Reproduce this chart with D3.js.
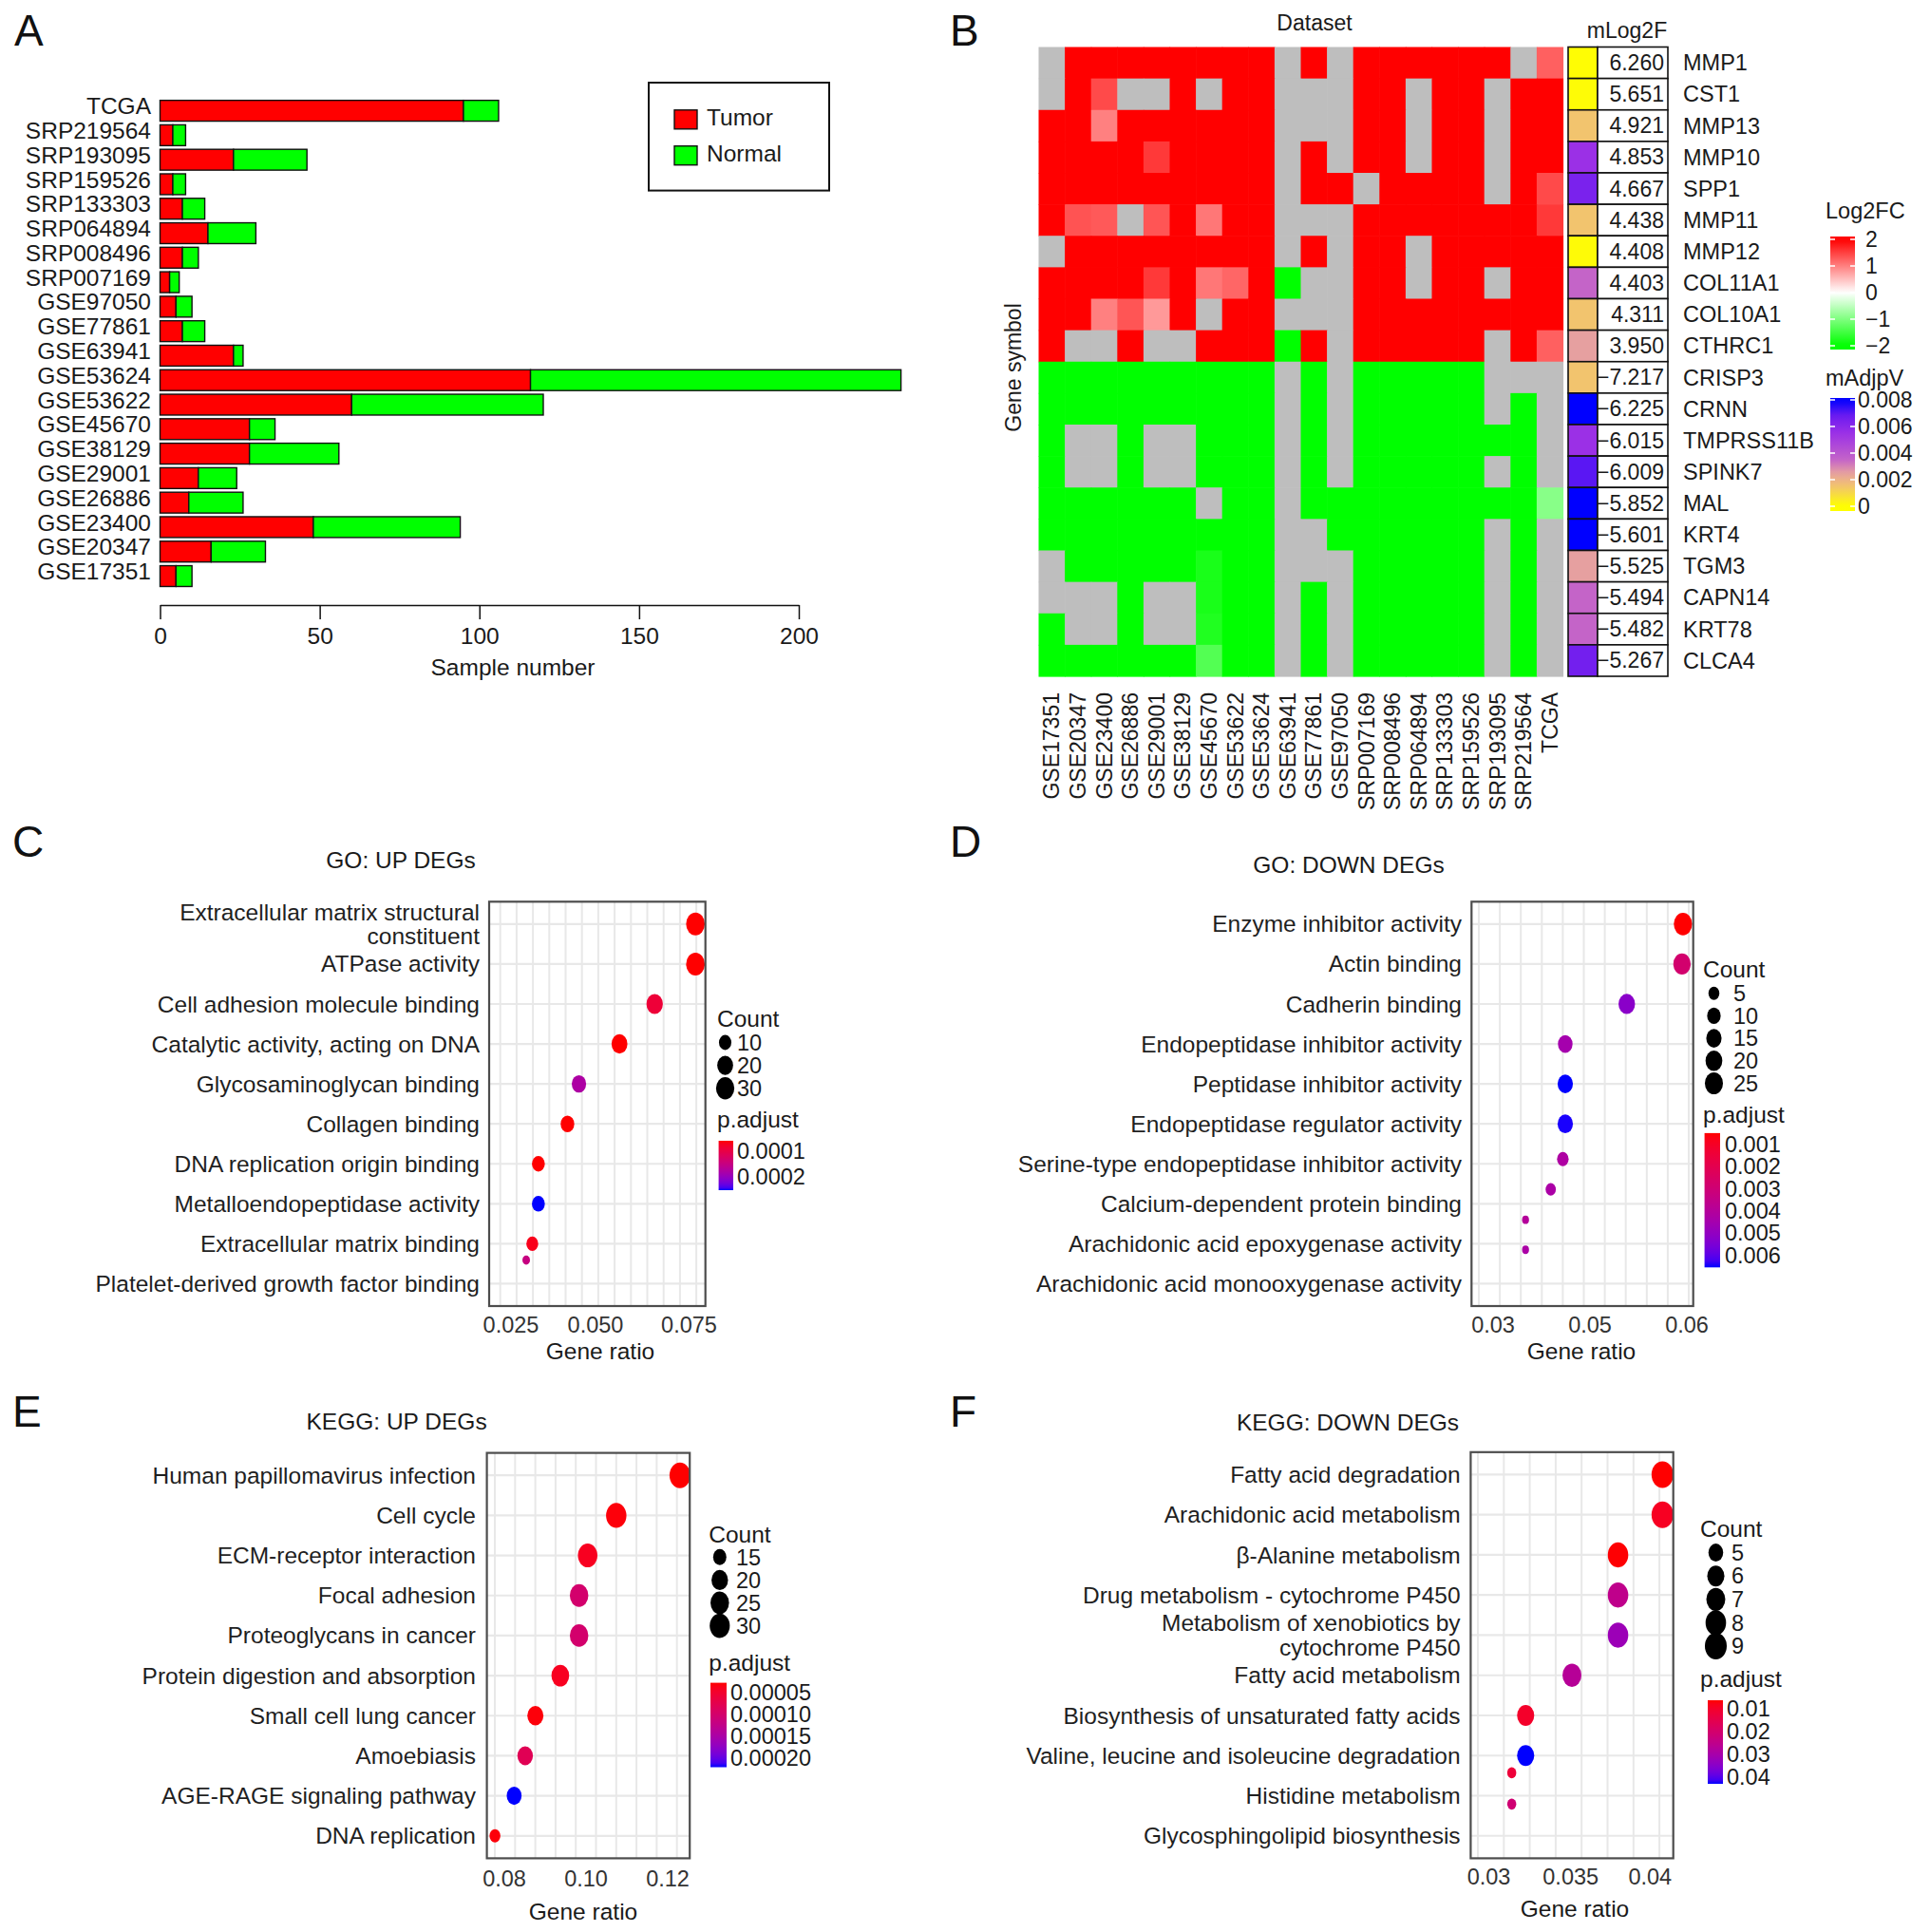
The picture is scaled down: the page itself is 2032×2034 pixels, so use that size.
<!DOCTYPE html>
<html>
<head>
<meta charset="utf-8">
<script src="https://cdn.jsdelivr.net/npm/d3@7"></script>
<style>
  body { margin: 0; background: #fff; }
</style>
</head>
<body>
<div id="figure"></div>
<script>
// ---------- A: sample numbers per dataset ----------
const sampleSets = ["TCGA", "SRP219564", "SRP193095", "SRP159526", "SRP133303", "SRP064894",
  "SRP008496", "SRP007169", "GSE97050", "GSE77861", "GSE63941", "GSE53624", "GSE53622",
  "GSE45670", "GSE38129", "GSE29001", "GSE26886", "GSE23400", "GSE20347", "GSE17351"];
const tumorCount = [95, 4, 23, 4, 7, 15, 7, 3, 5, 7, 23, 116, 60, 28, 28, 12, 9, 48, 16, 5];
const normalCount = [11, 4, 23, 4, 7, 15, 5, 3, 5, 7, 3, 116, 60, 8, 28, 12, 17, 46, 17, 5];
const sampleTicks = [0, 50, 100, 150, 200];

// ---------- B: robust rank heatmap ----------
const heatDatasets = ["GSE17351", "GSE20347", "GSE23400", "GSE26886", "GSE29001", "GSE38129",
  "GSE45670", "GSE53622", "GSE53624", "GSE63941", "GSE77861", "GSE97050", "SRP007169",
  "SRP008496", "SRP064894", "SRP133303", "SRP159526", "SRP193095", "SRP219564", "TCGA"];
const heatGenes = ["MMP1", "CST1", "MMP13", "MMP10", "SPP1", "MMP11", "MMP12", "COL11A1", "COL10A1",
  "CTHRC1", "CRISP3", "CRNN", "TMPRSS11B", "SPINK7", "MAL", "KRT4", "TGM3", "CAPN14", "KRT78", "CLCA4"];
const meanLog2FC = [6.260, 5.651, 4.921, 4.853, 4.667, 4.438, 4.408, 4.403, 4.311, 3.950,
  -7.217, -6.225, -6.015, -6.009, -5.852, -5.601, -5.525, -5.494, -5.482, -5.267];
const meanAdjP = [0.00005, 0.00008, 0.0015, 0.0055, 0.0064, 0.0015, 0.0001, 0.0035, 0.0015, 0.0025,
  0.0015, 0.0080, 0.0055, 0.0070, 0.0080, 0.0080, 0.0025, 0.0035, 0.0035, 0.0066];
const N = null; // not reported in that dataset
const heatLog2FC = [
  [N, 2, 2, 2, 2, 2, 2, 2, 2, N, 2, N, 2, 2, 2, 2, 2, 2, N, 1.25],
  [N, 2, 1.42, N, N, 2, N, 2, 2, N, N, N, 2, 2, N, 2, 2, N, 2, 2],
  [2, 2, 1.0, 2, 2, 2, 2, 2, 2, N, N, N, 2, 2, N, 2, 2, N, 2, 2],
  [2, 2, 2, 2, 1.55, 2, 2, 2, 2, N, 2, N, 2, 2, N, 2, 2, N, 2, 2],
  [2, 2, 2, 2, 2, 2, 2, 2, 2, N, 2, 2, N, 2, 2, 2, 2, N, 2, 1.42],
  [2, 1.35, 1.3, N, 1.33, 2, 1.07, 2, 2, N, N, N, 2, 2, 2, 2, 2, 2, 2, 1.55],
  [N, 2, 2, 2, 2, 2, 2, 2, 2, N, 2, N, 2, 2, N, 2, 2, 2, 2, 2],
  [2, 2, 2, 2, 1.55, 2, 1.07, 1.2, 2, -2, N, N, 2, 2, N, 2, 2, N, 2, 2],
  [2, 2, 1.0, 1.33, 0.8, 2, N, 2, 2, N, N, N, 2, 2, 2, 2, 2, 2, 2, 2],
  [2, N, N, 2, N, N, 2, 2, 2, -2, 2, N, 2, 2, 2, 2, 2, N, 2, 1.25],
  [-2, -2, -2, -2, -2, -2, -2, -2, -2, N, -2, N, -2, -2, -2, -2, -2, N, N, N],
  [-2, -2, -2, -2, -2, -2, -2, -2, -2, N, -2, N, -2, -2, -2, -2, -2, N, -2, N],
  [-2, N, N, -2, N, N, -2, -2, -2, N, -2, N, -2, -2, -2, -2, -2, -2, -2, N],
  [-2, N, N, -2, N, N, -2, -2, -2, N, -2, N, -2, -2, -2, -2, -2, N, -2, N],
  [-2, -2, -2, -2, -2, -2, N, -2, -2, N, -2, -2, -2, -2, -2, -2, -2, -2, -2, -0.93],
  [-2, -2, -2, -2, -2, -2, -2, -2, -2, N, N, -2, -2, -2, -2, -2, -2, N, -2, N],
  [N, -2, -2, -2, -2, -2, -1.8, -2, -2, N, N, N, -2, -2, -2, -2, -2, N, -2, N],
  [N, N, N, -2, N, N, -1.8, -2, -2, N, -2, N, -2, -2, -2, -2, -2, N, -2, N],
  [-2, N, N, -2, N, N, -1.75, -2, -2, N, -2, N, -2, -2, -2, -2, -2, N, -2, N],
  [-2, -2, -2, -2, -2, -2, -1.35, -2, -2, N, -2, N, -2, -2, -2, -2, -2, N, -2, N]
];
const fcTicks = [2, 1, 0, -1, -2];
const adjTicks = [0.008, 0.006, 0.004, 0.002, 0];

// ---------- C: GO up ----------
const goUpTerms = ["Extracellular matrix structural\nconstituent", "ATPase activity",
  "Cell adhesion molecule binding", "Catalytic activity, acting on DNA", "Glycosaminoglycan binding",
  "Collagen binding", "DNA replication origin binding", "Metalloendopeptidase activity",
  "Extracellular matrix binding", "Platelet-derived growth factor binding"];
const goUpRatio = [0.0767, 0.0767, 0.0658, 0.0564, 0.0451, 0.0417, 0.0331, 0.0331, 0.0313, 0.0295];
const goUpCount = [32, 32, 22, 20, 15, 13, 11, 11, 9, 5];
const goUpPadj = [0.00006, 0.00006, 0.00009, 0.00006, 0.00018, 0.00006, 0.00006, 0.000254, 0.00007, 0.00015];
const goUpRow = [0, 1, 2, 3, 4, 5, 6, 7, 8, 8.41];
const goUpTicks = [0.025, 0.05, 0.075];
const goUpTickLabels = ["0.025", "0.050", "0.075"];
const goUpCountBreaks = [10, 20, 30];
const goUpPadjBreaks = [0.0001, 0.0002];

// ---------- D: GO down ----------
const goDownTerms = ["Enzyme inhibitor activity", "Actin binding", "Cadherin binding",
  "Endopeptidase inhibitor activity", "Peptidase inhibitor activity", "Endopeptidase regulator activity",
  "Serine-type endopeptidase inhibitor activity", "Calcium-dependent protein binding",
  "Arachidonic acid epoxygenase activity", "Arachidonic acid monooxygenase activity"];
const goDownRatio = [0.0596, 0.0595, 0.0538, 0.0449, 0.0449, 0.0449, 0.0444, 0.0419, 0.0367, 0.0367];
const goDownCount = [26, 22, 19, 13, 15, 15, 6, 4, 2, 2];
const goDownPadj = [0.0005, 0.0028, 0.0052, 0.0045, 0.00655, 0.0065, 0.0042, 0.0043, 0.0040, 0.0043];
const goDownRow = [0, 1, 2, 3, 4, 5, 5.88, 6.64, 7.4, 8.15];
const goDownTicks = [0.03, 0.05, 0.06];
const goDownTickLabels = ["0.03", "0.05", "0.06"];
const goDownCountBreaks = [5, 10, 15, 20, 25];
const goDownPadjBreaks = [0.001, 0.002, 0.003, 0.004, 0.005, 0.006];

// ---------- E: KEGG up ----------
const keggUpTerms = ["Human papillomavirus infection", "Cell cycle", "ECM-receptor interaction",
  "Focal adhesion", "Proteoglycans in cancer", "Protein digestion and absorption",
  "Small cell lung cancer", "Amoebiasis", "AGE-RAGE signaling pathway", "DNA replication"];
const keggUpRatio = [0.1230, 0.1074, 0.1004, 0.0983, 0.0983, 0.0937, 0.0876, 0.0851, 0.0824, 0.0777];
const keggUpCount = [33, 31, 28, 25, 25, 23, 19, 18, 17, 14];
const keggUpPadj = [0.000027, 0.00003, 0.00004, 0.0001, 0.0001, 0.00004, 0.00003, 0.00008, 0.0002215, 0.00003];
const keggUpRow = [0, 1, 2, 3, 4, 5, 6, 7, 8, 9];
const keggUpTicks = [0.08, 0.10, 0.12];
const keggUpTickLabels = ["0.08", "0.10", "0.12"];
const keggUpCountBreaks = [15, 20, 25, 30];
const keggUpPadjBreaks = [0.00005, 0.00010, 0.00015, 0.00020];

// ---------- F: KEGG down ----------
const keggDownTerms = ["Fatty acid degradation", "Arachidonic acid metabolism", "β-Alanine metabolism",
  "Drug metabolism - cytochrome P450", "Metabolism of xenobiotics by\ncytochrome P450",
  "Fatty acid metabolism", "Biosynthesis of unsaturated fatty acids",
  "Valine, leucine and isoleucine degradation", "Histidine metabolism", "Glycosphingolipid biosynthesis"];
const keggDownRatio = [0.04078, 0.04078, 0.03798, 0.03798, 0.03798, 0.03508, 0.03225, 0.03225, 0.0314, 0.0314];
const keggDownCount = [9, 9, 8, 8, 8, 7, 6, 6, 4, 4];
const keggDownPadj = [0.0063, 0.009, 0.0065, 0.025, 0.032, 0.027, 0.010, 0.0429, 0.012, 0.021];
const keggDownRow = [0, 1, 2, 3, 4, 5, 6, 7, 7.43, 8.21];
const keggDownTicks = [0.03, 0.035, 0.04];
const keggDownTickLabels = ["0.03", "0.035", "0.04"];
const keggDownCountBreaks = [5, 6, 7, 8, 9];
const keggDownPadjBreaks = [0.01, 0.02, 0.03, 0.04];

const WIDTH = 2032, HEIGHT = 2034;
const FONT = '"Liberation Sans", Arial, Helvetica, sans-serif';
const ELLIPSE = 1.22; // dots in the source are a bit taller than wide

var svg = d3.select("#figure").append("svg")
  .attr("width", WIDTH).attr("height", HEIGHT)
  .style("font-family", FONT);
svg.append("rect").attr("width", WIDTH).attr("height", HEIGHT).attr("fill", "#fff");
var defs = svg.append("defs");

function addText(g, x, y, s, size, anchor, fill) {
  return g.append("text")
    .attr("x", x).attr("y", y).attr("dy", "0.35em")
    .attr("font-size", size)
    .attr("text-anchor", anchor || "start")
    .attr("fill", fill || "#1a1a1a")
    .text(s);
}

function verticalGradient(id, scale, domain) {
  /* gradient stops sampled from a colour scale, top of bar = domain[0] */
  var grad = defs.append("linearGradient").attr("id", id)
    .attr("x1", 0).attr("x2", 0).attr("y1", 0).attr("y2", 1);
  d3.range(0, 1.0001, 0.05).forEach(function(t) {
    grad.append("stop").attr("offset", t)
      .attr("stop-color", scale(domain[0] + t * (domain[1] - domain[0])));
  });
  return "url(#" + id + ")";
}

// panel letters
[["A", 15, 48], ["B", 1000, 48], ["C", 13, 902], ["D", 1000, 902], ["E", 13, 1502], ["F", 1000, 1502]]
  .forEach(function(p) {
    svg.append("text").attr("x", p[1]).attr("y", p[2])
      .attr("font-size", 46).attr("fill", "#111").text(p[0]);
  });

// ================= A =================
function drawBars() {
  var g = svg.append("g");
  var x = d3.scaleLinear().domain([0, 200]).range([168.5, 841]);
  var y = d3.scaleBand().domain(sampleSets).range([103.7, 619.4])
    .paddingInner(0.15).paddingOuter(0.075);
  var rows = sampleSets.map(function(s, i) {
    return { name: s, tumor: tumorCount[i], normal: normalCount[i] };
  });

  g.selectAll(".tumor").data(rows).join("rect").attr("class", "tumor")
    .attr("x", x(0)).attr("y", function(d) { return y(d.name); })
    .attr("width", function(d) { return x(d.tumor) - x(0); })
    .attr("height", y.bandwidth())
    .attr("fill", "#ff0000").attr("stroke", "#111").attr("stroke-width", 1.4);
  g.selectAll(".normal").data(rows).join("rect").attr("class", "normal")
    .attr("x", function(d) { return x(d.tumor); })
    .attr("y", function(d) { return y(d.name); })
    .attr("width", function(d) { return x(d.tumor + d.normal) - x(d.tumor); })
    .attr("height", y.bandwidth())
    .attr("fill", "#00ff00").attr("stroke", "#111").attr("stroke-width", 1.4);

  // the source's row labels sit a little above the bar centres
  g.selectAll(".lab").data(rows).join("text").attr("class", "lab")
    .attr("x", 159).attr("y", function(d) { return y(d.name) + y.bandwidth() / 2 - 5; })
    .attr("dy", "0.35em").attr("text-anchor", "end")
    .attr("font-size", 24.5).attr("fill", "#1a1a1a")
    .text(function(d) { return d.name; });

  var axis = g.append("g").attr("transform", "translate(0,637)")
    .call(d3.axisBottom(x).tickValues(sampleTicks).tickSize(15).tickSizeOuter(0).tickPadding(9));
  axis.attr("font-family", FONT).attr("font-size", 24.5);
  axis.selectAll("path, line").attr("stroke", "#111").attr("stroke-width", 1.5);
  axis.selectAll("text").attr("fill", "#1a1a1a");
  addText(g, 540, 702, "Sample number", 24.5, "middle");

  // legend
  g.append("rect").attr("x", 683).attr("y", 87).attr("width", 190).attr("height", 113.6)
    .attr("fill", "none").attr("stroke", "#111").attr("stroke-width", 2);
  [["Tumor", "#ff0000", 125.8], ["Normal", "#00ff00", 163.7]].forEach(function(e) {
    g.append("rect").attr("x", 710).attr("y", e[2] - 10).attr("width", 24).attr("height", 20)
      .attr("fill", e[1]).attr("stroke", "#111").attr("stroke-width", 1.4);
    addText(g, 744, e[2] - 2, e[0], 24.5);
  });
}

// ================= B =================
function drawHeatmap() {
  var g = svg.append("g");
  var x = d3.scaleBand().domain(heatDatasets).range([1093.5, 1645.5]);
  var y = d3.scaleBand().domain(heatGenes).range([49.5, 712]);
  var fcColor = d3.scaleLinear().domain([-2, 0, 2])
    .range(["#00ff00", "#ffffff", "#ff0000"]).clamp(true);
  var adjColor = d3.scaleLinear()
    .domain([0, 0.0015, 0.0025, 0.0035, 0.0055, 0.0068, 0.008])
    .range(["#ffff00", "#f2c46e", "#e6a0a0", "#c464c8", "#9b30e6", "#6c1cf0", "#0000ff"])
    .clamp(true);

  var cells = [];
  heatGenes.forEach(function(gene, i) {
    heatDatasets.forEach(function(ds, j) {
      cells.push({ gene: gene, ds: ds, v: heatLog2FC[i][j] });
    });
  });
  g.selectAll(".cell").data(cells).join("rect").attr("class", "cell")
    .attr("x", function(d) { return x(d.ds); })
    .attr("y", function(d) { return y(d.gene); })
    .attr("width", x.bandwidth() + 0.6).attr("height", y.bandwidth() + 0.6)
    .attr("fill", function(d) { return d.v === null ? "#bebebe" : fcColor(d.v); });

  // column labels
  g.selectAll(".col").data(heatDatasets).join("text").attr("class", "col")
    .attr("transform", function(d) {
      return "translate(" + (x(d) + x.bandwidth() / 2) + ",729) rotate(-90)";
    })
    .attr("dy", "0.35em").attr("text-anchor", "end")
    .attr("font-size", 23).attr("fill", "#1a1a1a").text(function(d) { return d; });
  addText(g, 1384, 24, "Dataset", 23, "middle");
  addText(g, 0, 0, "Gene symbol", 23, "middle")
    .attr("transform", "translate(1067,387) rotate(-90)");

  // annotation columns
  var ann = heatGenes.map(function(gene, i) {
    return { gene: gene, fc: meanLog2FC[i], p: meanAdjP[i] };
  });
  g.selectAll(".adj").data(ann).join("rect").attr("class", "adj")
    .attr("x", 1651).attr("y", function(d) { return y(d.gene); })
    .attr("width", 31).attr("height", y.bandwidth())
    .attr("fill", function(d) { return adjColor(d.p); })
    .attr("stroke", "#111").attr("stroke-width", 1.6);
  g.selectAll(".fcbox").data(ann).join("rect").attr("class", "fcbox")
    .attr("x", 1682).attr("y", function(d) { return y(d.gene); })
    .attr("width", 74).attr("height", y.bandwidth())
    .attr("fill", "#fff").attr("stroke", "#111").attr("stroke-width", 1.6);
  var fmt = d3.format(".3f");
  g.selectAll(".fcval").data(ann).join("text").attr("class", "fcval")
    .attr("x", 1752).attr("y", function(d) { return y(d.gene) + y.bandwidth() / 2; })
    .attr("dy", "0.35em").attr("text-anchor", "end")
    .attr("font-size", 23).attr("fill", "#1a1a1a")
    .text(function(d) { return fmt(d.fc); });
  g.selectAll(".gene").data(ann).join("text").attr("class", "gene")
    .attr("x", 1772).attr("y", function(d) { return y(d.gene) + y.bandwidth() / 2; })
    .attr("dy", "0.35em").attr("font-size", 23.5).attr("fill", "#1a1a1a")
    .text(function(d) { return d.gene; });
  addText(g, 1713, 32, "mLog2F", 23, "middle");

  // colour legends
  function colourLegend(id, title, titleY, scale, dom, top, bottom, barTop, barBottom, ticks, labX, fmtTick) {
    var ys = d3.scaleLinear().domain(dom).range([top, bottom]);
    var d0 = ys.invert(barTop), d1 = ys.invert(barBottom);
    addText(g, 1922, titleY, title, 23.5);
    g.append("rect").attr("x", 1927).attr("y", barTop).attr("width", 26)
      .attr("height", barBottom - barTop)
      .attr("fill", verticalGradient(id, scale, [d0, d1]));
    ticks.forEach(function(t) {
      [[1927, 1932], [1948, 1953]].forEach(function(s) {
        g.append("line").attr("x1", s[0]).attr("x2", s[1])
          .attr("y1", ys(t)).attr("y2", ys(t)).attr("stroke", "#fff").attr("stroke-width", 1.5);
      });
      addText(g, labX, ys(t), fmtTick(t), 23);
    });
  }
  colourLegend("fcGrad", "Log2FC", 222, fcColor, [2, -2], 252, 364, 249, 368, fcTicks, 1964,
    d3.format("d"));
  colourLegend("adjGrad", "mAdjpV", 398, adjColor, [0.008, 0], 421, 533, 419, 538, adjTicks, 1956,
    function(t) { return t === 0 ? "0" : d3.format(".3f")(t); });
}

// ================= C-F =================
function drawDotPanel(d, L) {
  var g = svg.append("g");
  var x = d3.scaleLinear().domain(d.ticks).range(L.tickPx);
  var y = d3.scaleLinear().domain([-0.56, 9.56]).range([L.top, L.bottom]);
  var cExt = d3.extent(d.count);
  var sz = d3.scaleSqrt().domain([0, cExt[1] - cExt[0]]).range([L.dMin, L.dMax]);
  function diam(c) { return sz(c - cExt[0]); }
  var pExt = d3.extent(d.padj);
  var colour = d3.scaleLinear().domain(pExt).range(["#ff0000", "#0000ff"])
    .interpolate(d3.interpolateLab);

  // grid
  var gridX = d3.range(L.grid.n).map(function(k) { return L.grid.x0 + k * L.grid.step; });
  g.selectAll(".vg").data(gridX).join("line").attr("class", "vg")
    .attr("x1", function(v) { return v; }).attr("x2", function(v) { return v; })
    .attr("y1", L.top).attr("y2", L.bottom)
    .attr("stroke", "#e8e8e8").attr("stroke-width", 2);
  g.selectAll(".hg").data(d3.range(d.terms.length)).join("line").attr("class", "hg")
    .attr("x1", L.left).attr("x2", L.right)
    .attr("y1", function(i) { return y(i); }).attr("y2", function(i) { return y(i); })
    .attr("stroke", "#e8e8e8").attr("stroke-width", 2.2);

  var rows = d.terms.map(function(t, i) {
    return { term: t, ratio: d.ratio[i], count: d.count[i], padj: d.padj[i], row: d.row[i] };
  });
  g.selectAll(".dot").data(rows).join("ellipse").attr("class", "dot")
    .attr("cx", function(r) { return x(r.ratio); })
    .attr("cy", function(r) { return y(r.row); })
    .attr("rx", function(r) { return diam(r.count) / 2; })
    .attr("ry", function(r) { return diam(r.count) / 2 * ELLIPSE; })
    .attr("fill", function(r) { return colour(r.padj); });

  g.append("rect").attr("x", L.left).attr("y", L.top)
    .attr("width", L.right - L.left).attr("height", L.bottom - L.top)
    .attr("fill", "none").attr("stroke", "#4d4d4d").attr("stroke-width", 2.2);

  // category labels (some wrap on two lines)
  rows.forEach(function(r, i) {
    var lines = r.term.split("\n");
    lines.forEach(function(line, k) {
      addText(g, L.labelX, y(i) + (k - (lines.length - 1) / 2) * 25.5, line, 24.5, "end", "#1f1f1f");
    });
  });

  // x axis
  d.ticks.forEach(function(t, i) {
    addText(g, x(t), L.tickY, d.tickLabels[i], 23.5, "middle", "#333");
  });
  addText(g, L.xTitle[0], L.xTitle[1], "Gene ratio", 24.5, "middle", "#1a1a1a");
  addText(g, L.title[0], L.title[1], d.title, 24.5, "middle", "#1a1a1a");

  // size legend
  var lg = L.leg;
  addText(g, lg.x, lg.countTitle, "Count", 24.5);
  d.countBreaks.forEach(function(c, i) {
    var cy = lg.y0 + i * lg.step;
    g.append("ellipse").attr("cx", lg.dotX).attr("cy", cy)
      .attr("rx", diam(c) / 2).attr("ry", diam(c) / 2 * ELLIPSE).attr("fill", "#000");
    addText(g, lg.labX, cy, String(c), 23.5);
  });

  // colour bar
  addText(g, lg.x, lg.padjTitle, "p.adjust", 24.5);
  var yb = d3.scaleLinear().domain(pExt).range([lg.barTop, lg.barBottom]);
  g.append("rect").attr("x", lg.barX).attr("y", lg.barTop)
    .attr("width", lg.barW).attr("height", lg.barBottom - lg.barTop)
    .attr("fill", verticalGradient(d.id, colour, pExt));
  d.padjBreaks.forEach(function(p) {
    addText(g, lg.barLabX, yb(p), d.padjFormat(p), 23.5);
  });
}

drawBars();
drawHeatmap();

drawDotPanel({
  id: "gradC", title: "GO: UP DEGs", terms: goUpTerms, ratio: goUpRatio, count: goUpCount,
  padj: goUpPadj, row: goUpRow, ticks: goUpTicks, tickLabels: goUpTickLabels,
  countBreaks: goUpCountBreaks, padjBreaks: goUpPadjBreaks, padjFormat: d3.format(".4f")
}, {
  top: 949.3, bottom: 1375, left: 515, right: 742.7, tickPx: [538, 627, 725.5], tickY: 1395,
  xTitle: [632, 1422], title: [422, 905], labelX: 505, grid: { x0: 526.7, step: 17.2, n: 13 },
  dMin: 8, dMax: 19.7,
  leg: { x: 755, countTitle: 1072.5, dotX: 763.5, labX: 776, y0: 1097.5, step: 24.1,
    padjTitle: 1178, barX: 756.6, barW: 15.4, barTop: 1201, barBottom: 1253, barLabX: 776 }
});

drawDotPanel({
  id: "gradD", title: "GO: DOWN DEGs", terms: goDownTerms, ratio: goDownRatio, count: goDownCount,
  padj: goDownPadj, row: goDownRow, ticks: goDownTicks, tickLabels: goDownTickLabels,
  countBreaks: goDownCountBreaks, padjBreaks: goDownPadjBreaks, padjFormat: d3.format(".3f")
}, {
  top: 949.3, bottom: 1375, left: 1549.3, right: 1782.7, tickPx: [1572, 1674, 1776], tickY: 1395,
  xTitle: [1665, 1422], title: [1420, 910], labelX: 1539, grid: { x0: 1557, step: 22.1, n: 11 },
  dMin: 7.3, dMax: 19.3,
  leg: { x: 1793, countTitle: 1020.7, dotX: 1804.5, labX: 1825, y0: 1045.7, step: 23.7,
    padjTitle: 1173, barX: 1794.6, barW: 16.4, barTop: 1192.9, barBottom: 1334.3, barLabX: 1816 }
});

drawDotPanel({
  id: "gradE", title: "KEGG: UP DEGs", terms: keggUpTerms, ratio: keggUpRatio, count: keggUpCount,
  padj: keggUpPadj, row: keggUpRow, ticks: keggUpTicks, tickLabels: keggUpTickLabels,
  countBreaks: keggUpCountBreaks, padjBreaks: keggUpPadjBreaks, padjFormat: d3.format(".5f")
}, {
  top: 1529.6, bottom: 1956.4, left: 512.6, right: 726.2, tickPx: [531, 617, 703], tickY: 1978,
  xTitle: [614, 2012], title: [417.6, 1496], labelX: 501, grid: { x0: 521, step: 21.3, n: 10 },
  dMin: 11.5, dMax: 22,
  leg: { x: 746.3, countTitle: 1615.8, dotX: 757.8, labX: 775, y0: 1639.3, step: 24.1,
    padjTitle: 1750, barX: 748, barW: 17, barTop: 1771.6, barBottom: 1860.5, barLabX: 769 }
});

drawDotPanel({
  id: "gradF", title: "KEGG: DOWN DEGs", terms: keggDownTerms, ratio: keggDownRatio,
  count: keggDownCount, padj: keggDownPadj, row: keggDownRow, ticks: keggDownTicks,
  tickLabels: keggDownTickLabels, countBreaks: keggDownCountBreaks,
  padjBreaks: keggDownPadjBreaks, padjFormat: d3.format(".2f")
}, {
  top: 1528.8, bottom: 1956.4, left: 1548.4, right: 1761.7, tickPx: [1567.5, 1653.7, 1737.3],
  tickY: 1976, xTitle: [1658, 2009], title: [1419, 1497], labelX: 1537.6,
  grid: { x0: 1556, step: 27.3, n: 8 }, dMin: 9.5, dMax: 23,
  leg: { x: 1790, countTitle: 1609, dotX: 1806.5, labX: 1823, y0: 1634.6, step: 24.6,
    padjTitle: 1767.3, barX: 1798, barW: 16, barTop: 1790, barBottom: 1878, barLabX: 1818 }
});
</script>
</body>
</html>
